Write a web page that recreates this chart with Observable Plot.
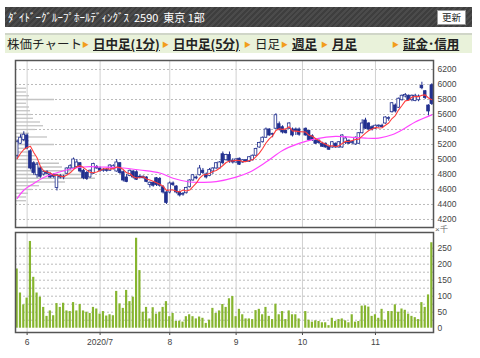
<!DOCTYPE html>
<html><head><meta charset="utf-8">
<script src="https://cdn.jsdelivr.net/npm/d3@7"></script>
<script src="https://cdn.jsdelivr.net/npm/@observablehq/plot@0.6"></script>
<style>
body{margin:0;background:#fff;font-family:"Noto Sans CJK JP",sans-serif;}
#wrap{position:relative;width:480px;height:358px;overflow:hidden;}
#hdr{position:absolute;left:5px;top:7px;width:467px;height:20px;background:repeating-linear-gradient(135deg,#3e3e3e 0 2px,#4b4b4b 2px 4px);}
#hdr .t{position:absolute;left:3px;top:2px;color:#fff;font-size:11px;line-height:16px;white-space:nowrap;}
#hdr .b{position:absolute;right:6px;top:3px;width:27px;height:13px;background:#fff;border:1px solid #999;font-size:9.5px;line-height:13px;text-align:center;color:#222;}
#tabs{position:absolute;left:5px;top:33px;width:467px;height:18px;background:#e9f2da;border-top:2px solid #d0d6c8;}
.tab{position:absolute;top:0px;font-size:12.5px;line-height:18px;color:#222;white-space:nowrap;}
.tab u{font-weight:bold;}
.ar{color:#f29d1a;font-size:7px;margin-right:4px;vertical-align:2px}
#p1{position:absolute;left:0;top:55px;}
#p2{position:absolute;left:0;top:228px;}
#kilo{position:absolute;left:435px;top:224px;font-size:8px;color:#666;font-family:"Liberation Sans",sans-serif;}
</style></head>
<body><div id="wrap">
<div id="hdr"><div class="t">ﾀﾞｲﾄﾞｰｸﾞﾙｰﾌﾟﾎｰﾙﾃﾞｨﾝｸﾞｽ&nbsp; 2590&nbsp; 東京 1部</div><div class="b">更新</div></div>
<div id="tabs">
<span class="tab" style="left:2px">株価チャート</span>
<span class="tab" style="left:77px"><span class="ar">▶</span><u>日中足(1分)</u></span>
<span class="tab" style="left:157px"><span class="ar">▶</span><u>日中足(5分)</u></span>
<span class="tab" style="left:239px"><span class="ar">▶</span>日足</span>
<span class="tab" style="left:276px"><span class="ar">▶</span><u>週足</u></span>
<span class="tab" style="left:316px"><span class="ar">▶</span><u>月足</u></span>
<span class="tab" style="left:387px"><span class="ar">▶</span><u>証金･信用</u></span>
</div>
<div id="p1"></div><div id="p2"></div><div id="kilo">×千</div>
</div>
<script>
const open=[5050,5210,5260,5320,5110,4950,4790,4880,4800,4830,4800,4790,4620,4780,4760,4810,4880,4880,4900,4950,4850,4820,4760,4810,4900,4880,4850,4860,4850,4880,4840,4950,4830,4760,4780,4840,4830,4770,4770,4760,4660,4690,4750,4740,4630,4560,4560,4680,4640,4560,4530,4550,4630,4720,4760,4790,4850,4800,4780,4840,4880,4880,5070,4990,5060,4980,4960,5010,4960,4990,4970,4990,5050,5160,5230,5290,5400,5330,5410,5470,5430,5380,5410,5400,5400,5400,null,5410,5380,5310,5250,5250,5210,5210,5170,5160,5210,5160,5160,5220,5250,5220,5200,5210,5350,5520,5480,5430,5410,5440,5450,5480,5540,5630,5720,5690,5790,5840,5850,5790,5780,5790,5980,5910,5720,5990];
const high=[5260,5330,5370,5340,5130,4970,4960,4900,4850,4850,4820,4810,4800,4800,4790,4890,4930,5020,5000,4960,4870,4840,4860,4950,4920,4900,4880,4880,4930,4930,5000,4960,4850,4800,4860,4850,4850,4790,4780,4770,4700,4700,4760,4760,4650,4570,4700,4700,4650,4580,4560,4630,4730,4800,4780,4920,4880,4820,4880,4890,4960,4970,5100,5070,5100,5010,5010,5020,5000,5000,5040,5060,5150,5230,5300,5420,5410,5350,5610,5500,5450,5400,5490,5420,5420,5420,null,5420,5390,5330,5270,5260,5230,5220,5180,5240,5220,5240,5330,5300,5260,5240,5300,5360,5530,5550,5490,5450,5460,5460,5470,5570,5570,5760,5740,5820,5860,5880,5860,5860,5870,5860,6030,5920,5730,6010];
const low=[5000,5200,5240,5130,4860,4790,4750,4750,4780,4800,4750,4750,4580,4740,4730,4800,4860,4870,4880,4820,4730,4720,4750,4800,4870,4830,4830,4830,4840,4860,4830,4800,4700,4690,4770,4740,4720,4740,4740,4690,4620,4630,4640,4630,4540,4400,4540,4640,4540,4500,4510,4540,4620,4710,4730,4780,4800,4740,4770,4800,4870,4870,4930,4980,4950,4940,4950,4920,4950,4960,4960,4980,5040,5150,5220,5280,5310,5290,5400,5380,5340,5340,5400,5300,5320,5310,null,5310,5250,5240,5200,5200,5160,5150,5120,5150,5150,5150,5150,5200,5200,5200,5190,5200,5340,5400,5390,5380,5400,5420,5420,5470,5510,5620,5620,5680,5780,5820,5780,5770,5770,5770,5930,5800,5580,5720];
const close=[5230,5290,5330,5150,4880,4820,4930,4770,4830,4810,4760,4770,4790,4760,4770,4880,4910,5000,4960,4840,4750,4740,4850,4940,4880,4850,4860,4850,4920,4910,4960,4820,4720,4700,4850,4760,4730,4760,4750,4700,4690,4650,4660,4650,4560,4420,4680,4660,4560,4520,4540,4620,4720,4790,4750,4880,4820,4760,4860,4880,4950,4960,4950,5060,4980,4960,5000,4930,4990,4980,5030,5050,5140,5220,5290,5400,5320,5340,5590,5400,5360,5350,5480,5320,5380,5330,null,5320,5260,5260,5210,5220,5170,5160,5130,5230,5160,5230,5320,5280,5210,5230,5290,5350,5480,5410,5400,5400,5450,5440,5430,5560,5550,5750,5640,5810,5850,5860,5790,5850,5850,5840,5950,5820,5640,5740];
const priorClose=[4940,5065,5015,4800];
const volume=[185,110,73,94,271,159,110,97,65,37,54,39,77,65,78,54,52,80,54,74,54,50,46,65,60,44,52,38,42,39,115,76,62,118,83,97,281,180,50,65,29,64,44,50,65,83,36,46,21,22,19,36,42,36,29,35,31,15,25,62,46,54,74,65,92,99,36,59,42,29,29,27,55,59,42,65,37,27,75,42,52,27,54,42,42,29,null,52,25,19,23,21,17,17,8,31,21,27,29,23,17,42,19,21,69,70,66,37,42,31,59,25,52,52,73,50,60,56,44,37,33,27,80,65,104,267];
const monthIdx=[3,25,46,66,86,108];
const monthLabels=["6","2020/7","8","9","10","11"];
const priceTicks=[4200,4400,4600,4800,5000,5200,5400,5600,5800,6000,6200];
const volTicks=[0,50,100,150,200,250];
const volGrid=[25,50,75,100,125,150,175,200,225,250];
const ma25Idx=[0,2,5,8,11,14,17,20,22,25,31,37,43,47,52,56,60,66,70,75,80,85,90,96,101,105,109,113,117,120,125];
const ma25Val=[4480,4590,4680,4760,4810,4850,4880,4900,4905,4900,4890,4860,4820,4750,4700,4695,4705,4765,4830,4965,5120,5215,5275,5308,5295,5284,5286,5330,5420,5500,5595];
const profPrice=[5950,5900,5850,5800,5750,5700,5650,5600,5550,5500,5450,5400,5350,5300,5250,5200,5150,5100,5050,5000,4950,4900,4850,4800,4750,4700,4650,4600,4550,4500,4450];
const profVol=[11,11,14,39,11,14,15,16,18,25,28,20,14,32,14,39,13,14,20,24,44,47,57,67,80,50,24,17,13,11,11];

const N=close.length;
const pxPerDay=418/N;
const navy="#22308f";
const candles=d3.range(N).filter(i=>close[i]!=null).map(i=>({i,o:open[i],h:high[i],l:low[i],c:close[i]}));
const allC=priorClose.concat(close);
const ma5=[];
for(let i=0;i<N;i++){ if(close[i]==null) continue; const w=[]; for(let k=i+priorClose.length;k>=0&&w.length<5;k--){ if(allC[k]!=null) w.push(allC[k]); } ma5.push({i,v:d3.mean(w)}); }
const ma25=ma25Idx.map((i,k)=>({i,v:ma25Val[k]}));
const prof=profPrice.map((p,k)=>({p,v:profVol[k]}));
const vols=d3.range(N).filter(i=>volume[i]!=null).map(i=>({i,v:volume[i]}));
const st={fontSize:"8.5px",fontFamily:"Liberation Sans, Arial, sans-serif",color:"#444",background:"transparent"};

const p1=Plot.plot({width:480,height:175,marginLeft:15,marginRight:47,marginTop:5,marginBottom:3,
 x:{domain:[-0.5,N-0.5],axis:null}, y:{domain:[4093,6320],axis:null}, style:st,
 marks:[
  Plot.ruleY(priceTicks,{stroke:"#bbb",strokeDasharray:"2,2"}),
  Plot.ruleX(monthIdx,{stroke:"#d0d0d0"}),
  Plot.ruleY(prof,{y:"p",x1:-0.5,x2:d=>-0.5+d.v/pxPerDay,stroke:"#c4c4c4",strokeWidth:1.3}),
  Plot.ruleX(candles,{x:"i",y1:"l",y2:"h",stroke:navy,strokeWidth:1}),
  Plot.rect(candles,{x1:d=>d.i-0.4,x2:d=>d.i+0.4,y1:"o",y2:d=>Math.abs(d.c-d.o)<12?d.o+(d.c>=d.o?12:-12):d.c,fill:d=>d.c>=d.o?"#fff":navy,stroke:navy,strokeWidth:0.8}),
  Plot.line(ma25,{x:"i",y:"v",stroke:"#ff44ff",strokeWidth:1.2,curve:"catmull-rom"}),
  Plot.line(ma5,{x:"i",y:"v",stroke:"#ff3b3b",strokeWidth:1.1}),
  Plot.axisY(priceTicks,{anchor:"right",tickSize:0,tickPadding:4,tickFormat:d=>String(d),label:null}),
  Plot.frame({stroke:"#555",strokeWidth:1.5})
 ]});
document.getElementById("p1").append(p1);

const p2=Plot.plot({width:480,height:125,marginLeft:15,marginRight:47,marginTop:4,marginBottom:21,
 x:{domain:[-0.5,N-0.5],axis:null}, y:{domain:[-13.4,299],axis:null}, style:st,
 marks:[
  Plot.ruleY(volGrid,{stroke:"#bbb",strokeDasharray:"2,2"}),
  Plot.ruleX(monthIdx,{stroke:"#d0d0d0"}),
  Plot.rect(vols,{x1:d=>d.i-0.33,x2:d=>d.i+0.33,y1:0,y2:"v",fill:"#86b52f"}),
  Plot.axisY(volTicks,{anchor:"right",tickSize:0,tickPadding:4,tickFormat:d=>String(d),label:null}),
  Plot.axisX(monthIdx,{anchor:"bottom",tickSize:3,tickPadding:3,tickFormat:d=>monthLabels[monthIdx.indexOf(d)],label:null}),
  Plot.frame({stroke:"#555",strokeWidth:1.5})
 ]});
document.getElementById("p2").append(p2);
</script>
</body></html>
